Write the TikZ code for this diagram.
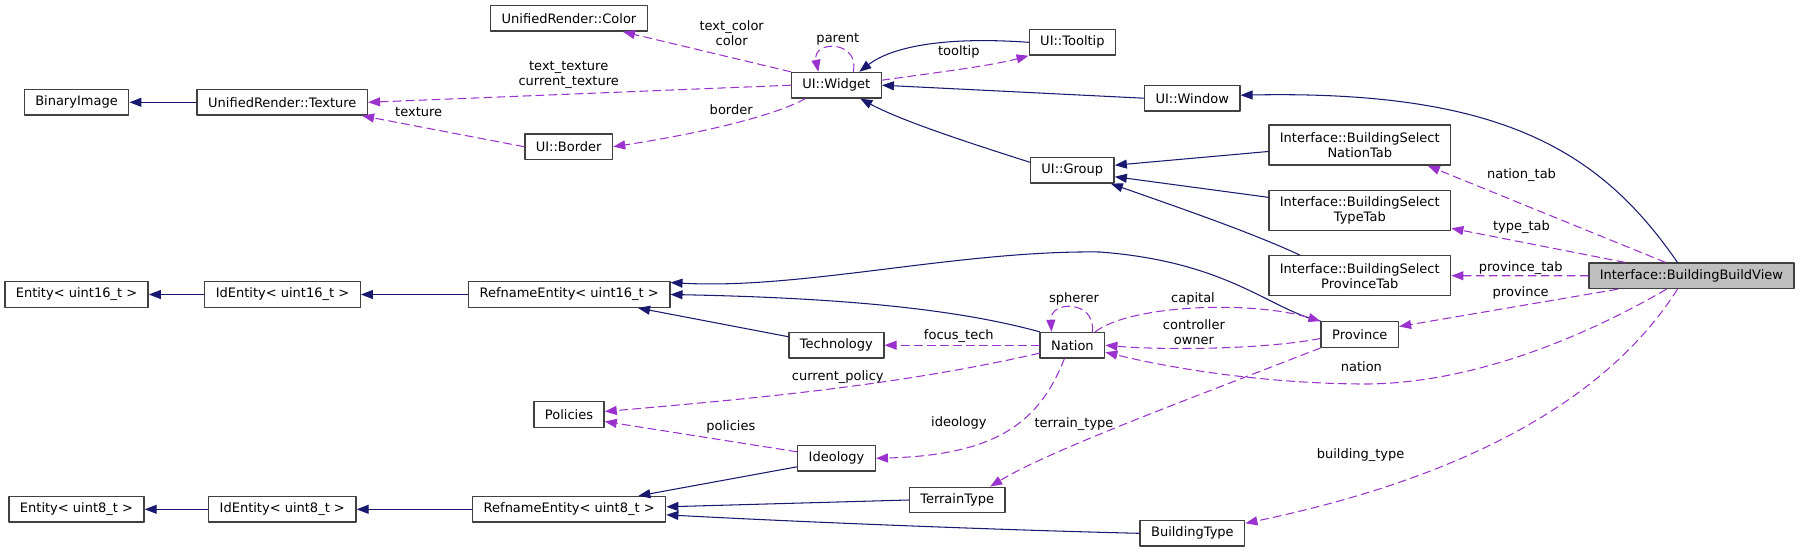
\documentclass[tikz,border=0pt]{standalone}
\usepackage{fontspec}
\setmainfont{DejaVu Sans}
\usepackage{pgf,tikz}
\usetikzlibrary{arrows.meta}
\definecolor{wpwpiq}{rgb}{0.098,0.098,0.439}
\definecolor{parecd}{rgb}{0.604,0.196,0.804}
\definecolor{tqtqtq}{rgb}{0.25,0.25,0.25}
\definecolor{bfbfbf}{rgb}{0.749,0.749,0.749}
\begin{document}
\begin{tikzpicture}[line cap=round,line join=round,>={Triangle[length=0.24cm,width=0.18cm]},x=0.02cm,y=-0.02cm,
cls/.style={draw=tqtqtq,line width=0.8pt,fill=white,inner xsep=0.22cm,inner ysep=0pt,minimum height=0.51cm,font=\fontsize{7.4}{8.5}\selectfont},
cls2/.style={cls,align=center,minimum height=0.8cm},
inh/.style={draw=wpwpiq,line width=0.6pt,->},
use/.style={draw=parecd,line width=0.6pt,dash pattern=on 0.16cm off 0.1cm,->},
lbl/.style={inner sep=0pt,align=center,font=\fontsize{7.4}{8.5}\selectfont}]
\clip(0,0) rectangle (1800,552);
\node[cls] (color) at (569,18.3) {UnifiedRender::Color};
\node[cls] (binimg) at (76.5,102.3) {BinaryImage};
\node[cls] (texture) at (282.3,102.3) {UnifiedRender::Texture};
\node[cls] (border) at (568.7,146.7) {UI::Border};
\node[cls] (widget) at (836.3,85.2) {UI::Widget};
\node[cls] (tooltip) at (1072.4,42.3) {UI::Tooltip};
\node[cls] (window) at (1192.2,98.2) {UI::Window};
\node[cls] (group) at (1072.3,170.2) {UI::Group};
\node[cls2] (nationtab) at (1359.8,145) {Interface::BuildingSelect\\NationTab};
\node[cls2] (typetab) at (1359.8,210.3) {Interface::BuildingSelect\\TypeTab};
\node[cls2] (provtab) at (1359.8,275.7) {Interface::BuildingSelect\\ProvinceTab};
\node[cls,fill=bfbfbf] (bbv) at (1691.4,275.8) {Interface::BuildingBuildView};
\node[cls] (ent16) at (76.5,294.5) {Entity< uint16\_t >};
\node[cls] (id16) at (282.5,294.5) {IdEntity< uint16\_t >};
\node[cls] (ref16) at (569.2,294.5) {RefnameEntity< uint16\_t >};
\node[cls] (tech) at (836.4,345.2) {Technology};
\node[cls] (nation) at (1072.4,345.2) {Nation};
\node[cls] (province) at (1359.8,334.5) {Province};
\node[cls] (policies) at (569,414.5) {Policies};
\node[cls] (ideology) at (836.5,458.3) {Ideology};
\node[cls] (terrain) at (957.2,500) {TerrainType};
\node[cls] (btype) at (1192.4,533.3) {BuildingType};
\node[cls] (ent8) at (76.5,509.3) {Entity< uint8\_t >};
\node[cls] (id8) at (282.3,509.3) {IdEntity< uint8\_t >};
\node[cls] (ref8) at (569.2,509.3) {RefnameEntity< uint8\_t >};
\node[lbl] (l-texcur) at (568.7,75) {text\_texture\\current\_texture};
\node[lbl] (l-texture) at (418.7,111.7) {texture};
\node[lbl] (l-color) at (731.7,33) {text\_color\\color};
\node[lbl] (l-parent) at (837.8,39.3) {parent};
\node[lbl] (l-tooltip) at (958.8,52.3) {tooltip};
\node[lbl] (l-border) at (731.2,110) {border};
\node[lbl] (l-nationtab) at (1521.5,174.7) {nation\_tab};
\node[lbl] (l-typetab) at (1521.5,226.7) {type\_tab};
\node[lbl] (l-provtab) at (1520.7,267.7) {province\_tab};
\node[lbl] (l-province) at (1520.7,292.7) {province};
\node[lbl] (l-spherer) at (1074,299.3) {spherer};
\node[lbl] (l-capital) at (1193,299.3) {capital};
\node[lbl] (l-owner) at (1193.9,332.3) {controller\\owner};
\node[lbl] (l-focus) at (958.8,336) {focus\_tech};
\node[lbl] (l-curpol) at (837.8,376.7) {current\_policy};
\node[lbl] (l-policies) at (730.8,426.7) {policies};
\node[lbl] (l-ideology) at (958.8,422.7) {ideology};
\node[lbl] (l-terrain) at (1074,424.3) {terrain\_type};
\node[lbl] (l-nation) at (1361.4,366.7) {nation};
\node[lbl] (l-btype) at (1360.6,455) {building\_type};
\draw[inh] (texture) -- (binimg);
\draw[use] (widget.west) -- (texture.east);
\draw[use] (border.west) -- ([xshift=-0.12cm]texture.south east);
\draw[use] ([xshift=-0.62cm]widget.south) .. controls (770,118) and (690,135) .. (border.east);
\draw[use] (widget.north west) -- ([xshift=-0.5cm]color.south east);
\draw[use] ([xshift=0.34cm]widget.north) .. controls (860,40) and (812,40) .. ([xshift=-0.36cm]widget.north);
\draw[use] ([yshift=0.1cm]widget.east) .. controls (940,72) and (990,66) .. (tooltip.south west);
\draw[inh] (tooltip.west) .. controls (940,36) and (890,48) .. ([xshift=0.46cm]widget.north);
\draw[inh] (window.west) -- (widget.east);
\draw[inh] ([yshift=0.16cm]group.west) .. controls (960,140) and (900,120) .. ([xshift=0.48cm]widget.south);
\draw[inh] ([yshift=-0.13cm]nationtab.west) -- ([yshift=0.1cm]group.east);
\draw[inh] ([yshift=0.26cm]typetab.west) -- ([yshift=-0.13cm]group.east);
\draw[inh] ([xshift=-1.2cm]provtab.north) .. controls (1250,232) and (1180,208) .. ([xshift=-0.08cm]group.south east);
\draw[inh] ([xshift=-0.28cm]bbv.north) .. controls (1600,150) and (1500,90) .. ([yshift=0.06cm]window.east);
\draw[use] ([xshift=-0.52cm]bbv.north) -- ([xshift=1.36cm]nationtab.south);
\draw[use] ([xshift=-1.33cm]bbv.north) -- ([yshift=-0.36cm]typetab.east);
\draw[use] (bbv) -- (provtab);
\draw[use] ([xshift=-1.48cm]bbv.south) -- ([yshift=0.16cm]province.east);
\draw[use] ([xshift=-0.5cm]bbv.south) .. controls (1570,345) and (1460,385) .. (1360,384) .. controls (1260,383) and (1170,368) .. ([yshift=-0.14cm]nation.east);
\draw[use] ([xshift=-0.28cm]bbv.south) .. controls (1620,380) and (1500,470) .. ([yshift=0.2cm]btype.east);
\draw[inh] (id16) -- (ent16);
\draw[inh] (ref16) -- (id16);
\draw[inh] (province.north west) .. controls (1270,310) and (1230,262) .. (1100,252) .. controls (960,250) and (800,290) .. ([yshift=0.24cm]ref16.east);
\draw[inh] (nation.north west) .. controls (960,310) and (850,298) .. (ref16.east);
\draw[inh] ([yshift=0.17cm]tech.west) -- ([xshift=-0.65cm]ref16.south east);
\draw[use] ([xshift=0.4cm]nation.north) .. controls (1096,300) and (1050,300) .. ([xshift=-0.42cm]nation.north);
\draw[use] (nation) -- (tech);
\draw[use] ([yshift=-0.16cm]nation.west) .. controls (900,385) and (760,398) .. ([yshift=0.06cm]policies.east);
\draw[use] ([yshift=0.13cm]ideology.west) -- ([yshift=-0.14cm]policies.east);
\draw[use] ([xshift=-0.16cm]nation.south) .. controls (1040,420) and (1000,455) .. (ideology.east);
\draw[use] ([yshift=-0.08cm]province.west) .. controls (1260,350) and (1160,350) .. (nation.east);
\draw[use] ([xshift=0.46cm]nation.north) .. controls (1130,305) and (1250,300) .. (province.north west);
\draw[use] (province.south west) .. controls (1200,395) and (1050,450) .. ([xshift=0.66cm]terrain.north);
\draw[inh] ([yshift=-0.17cm]ideology.west) -- ([xshift=-0.56cm]ref8.north east);
\draw[inh] (terrain.west) -- ([yshift=0.05cm]ref8.east);
\draw[inh] (btype.west) .. controls (1000,530) and (800,522) .. ([yshift=-0.11cm]ref8.east);
\draw[inh] (id8) -- (ent8);
\draw[inh] (ref8) -- (id8);
\end{tikzpicture}
\end{document}
